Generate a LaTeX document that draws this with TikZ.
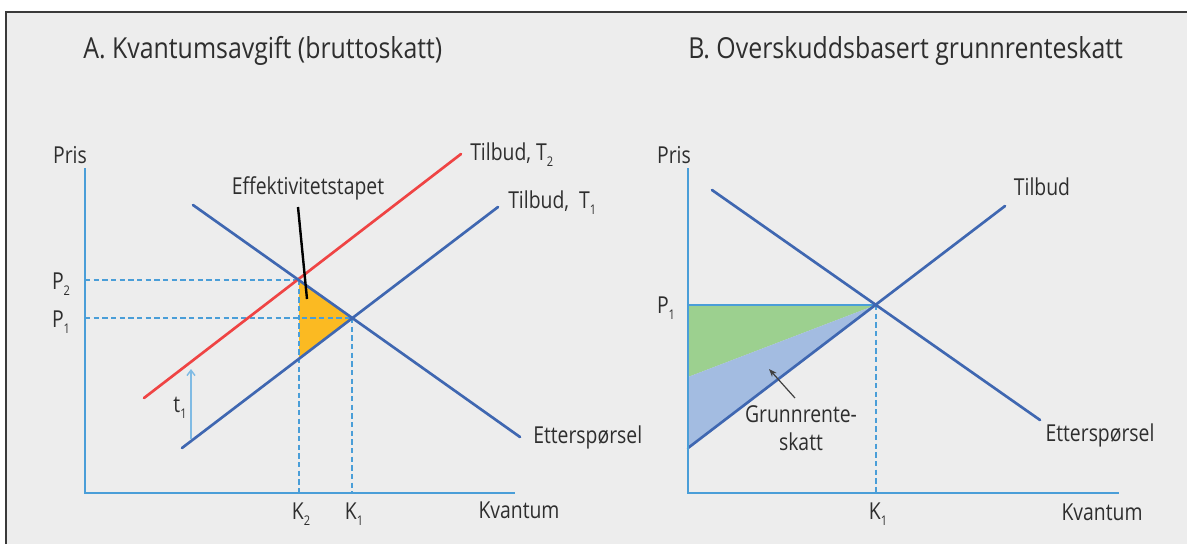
\documentclass[tikz,border=0pt]{standalone}
\usepackage{fontspec}
\setmainfont[FakeStretch=0.83]{Open Sans}
\newfontfamily\ttlfont[FakeStretch=0.86]{Open Sans}
\usetikzlibrary{arrows.meta}
\definecolor{bg}{HTML}{EDEDED}
\definecolor{frame}{HTML}{3A3A3A}
\definecolor{txt}{HTML}{2E2E2E}
\definecolor{curveblue}{HTML}{3F67B1}
\definecolor{axisblue}{HTML}{4A9ED8}
\definecolor{redline}{HTML}{EF4444}
\definecolor{orangefill}{HTML}{FBBA22}
\definecolor{greenfill}{HTML}{9CD08F}
\definecolor{bluefill}{HTML}{A3BCE1}
\newcommand\lowsub[1]{\raisebox{-0.5ex}{\fontsize{10}{10}\selectfont #1}}
\begin{document}
\begin{tikzpicture}[x=0.75pt,y=-0.75pt,
  curve/.style={line width=2pt, curveblue, line cap=round},
  redcurve/.style={line width=2pt, redline, line cap=round},
  axis/.style={line width=1.5pt, axisblue},
  guide/.style={line width=1.4pt, axisblue, dash pattern=on 4pt off 2.5pt},
  lbl/.style={font=\fontsize{17.5}{21}\selectfont, text=txt, inner sep=0pt},
  ttl/.style={font=\ttlfont\fontsize{21.7}{25}\selectfont, text=txt, inner sep=0pt}]
\useasboundingbox (0,0) rectangle (1187,544);
\fill[white] (0,0) rectangle (1187,544);
\fill[bg] (6,12) rectangle (1187,544);
\draw[frame, line width=2.2pt] (6,544) -- (6,12) -- (1187,12);

% ---------------- Panel A ----------------
\node[ttl, anchor=base west] (titleA) at (83,58) {A. Kvantumsavgift (bruttoskatt)};
\coordinate (Ao) at (85,493);
\coordinate (Atop) at (85,168);
\coordinate (Aend) at (515,493);
\coordinate (E2) at (299,280);
\coordinate (E1) at (352,318);
\coordinate (B2) at (299,359);
\coordinate (P2a) at (85,280);
\coordinate (P1a) at (85,318);
\coordinate (K2a) at (299,493);
\coordinate (K1a) at (352,493);

\fill[orangefill] (E2) -- (E1) -- (B2) -- cycle;
\draw[guide] (P2a) -- (E2);
\draw[guide] (P1a) -- (E1);
\draw[guide] (E2) -- (K2a);
\draw[guide] (E1) -- (K1a);

\coordinate (T2s) at (144,398);
\coordinate (T2e) at (461,154);
\coordinate (T1s) at (182,448);
\coordinate (T1e) at (498,207);
\coordinate (Ds) at (193,205);
\coordinate (De) at (520,437);
\draw[redcurve] (T2s) -- (T2e);
\draw[curve] (T1s) -- (T1e);
\draw[curve] (Ds) -- (De);
\draw[axis] (Atop) -- (Ao) -- (Aend);

\coordinate (tA) at (191,439);
\coordinate (tB) at (191,369);
\draw[line width=1.1pt, axisblue!70, -{Straight Barb[length=4pt,width=6pt]}] (tA) -- (tB);
\node[lbl] (tlab) at (180,408) {t\lowsub{1}};

\node[lbl] (prisA) at (70,155) {Pris};
\node[lbl, anchor=west] (T2lab) at (470,155) {Tilbud, T\lowsub{2}};
\node[lbl, anchor=west] (T1lab) at (508,203) {Tilbud,\ \ T\lowsub{1}};
\node[lbl, anchor=west] (Dlab) at (533,437) {Etterspørsel};
\node[lbl] (P2lab) at (61,284) {P\lowsub{2}};
\node[lbl] (P1lab) at (61,322) {P\lowsub{1}};
\node[lbl] (K2lab) at (301,514) {K\lowsub{2}};
\node[lbl] (K1lab) at (354,514) {K\lowsub{1}};
\node[lbl] (KvA) at (519,510) {Kvantum};
\node[lbl] (eff) at (308,188) {Effektivitetstapet};
\coordinate (effTip) at (307,299);
\draw[black, line width=1.8pt] (298,207) -- (effTip);

% ---------------- Panel B ----------------
\node[ttl, anchor=base west] (titleB) at (688,58) {B. Overskuddsbasert grunnrenteskatt};
\coordinate (Bo) at (688,493);
\coordinate (Btop) at (688,168);
\coordinate (Bend) at (1119,493);
\coordinate (E) at (876,305);
\coordinate (P1b) at (688,305);
\coordinate (Mid) at (688,377);
\coordinate (Ss) at (688,448);
\coordinate (Se) at (1005,206);
\coordinate (Dbs) at (712,190);
\coordinate (Dbe) at (1040,420);
\coordinate (K1b) at (876,493);

\fill[greenfill] (P1b) -- (E) -- (Mid) -- cycle;
\fill[bluefill] (Mid) -- (E) -- (Ss) -- cycle;
\draw[guide] (E) -- (K1b);
\draw[axis] (P1b) -- (E);
\draw[curve] (Ss) -- (Se);
\draw[curve] (Dbs) -- (Dbe);
\draw[axis] (Btop) -- (Bo) -- (Bend);

\node[lbl] (prisB) at (674,155) {Pris};
\node[lbl] (P1blab) at (666,308) {P\lowsub{1}};
\node[lbl] (K1blab) at (878,514) {K\lowsub{1}};
\node[lbl] (KvB) at (1102,512) {Kvantum};
\node[lbl] (Tlab) at (1042,187) {Tilbud};
\node[lbl] (Dblab) at (1100,435) {Etterspørsel};
\node[lbl, align=center] (gr) at (801,428) {Grunnrente-\\skatt};
\coordinate (grTail) at (795,398);
\coordinate (grTip) at (769,369);
\draw[black!75, line width=0.9pt, -{Stealth[length=6pt,width=4.5pt]}] (grTail) -- (grTip);
\end{tikzpicture}
\end{document}
